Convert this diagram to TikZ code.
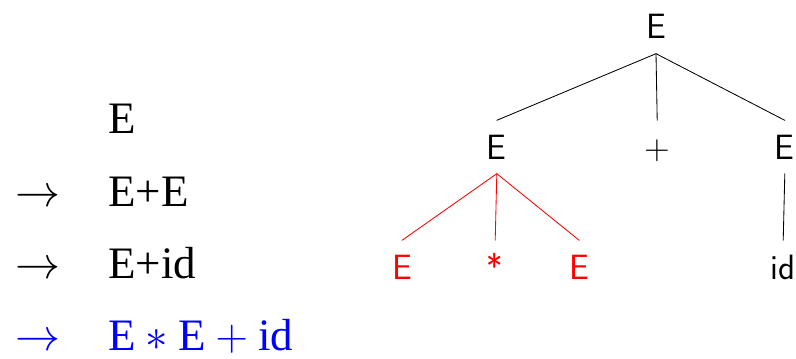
\documentclass[tikz,border=0pt]{standalone}
\usepackage{fix-cm}
\usepackage{fontspec}
\setmainfont{Liberation Serif}
\begin{document}
\begin{tikzpicture}[line cap=round, line join=round,
    deriv/.style={anchor=base west, inner sep=0pt, font=\fontsize{32}{38}\selectfont},
    sym/.style={inner xsep=1pt, inner ysep=0.36cm, text height=0.6cm, text depth=0pt,
      font=\fontsize{25}{30}\selectfont\sffamily},
    branch/.style={line width=0.6pt}]
  \useasboundingbox (0,0) rectangle (19.9,-8.95);
  % 推导过程
  \node[deriv] (d0) at (2.7,-3.325) {E};
  \node[deriv] (a1) at (0.375,-5.15) {$\rightarrow$};
  \node[deriv] (d1) at (2.7,-5.15) {E+E};
  \node[deriv] (a2) at (0.375,-6.95) {$\rightarrow$};
  \node[deriv] (d2) at (2.7,-6.95) {E+id};
  \node[deriv, blue] (a3) at (0.375,-8.75) {$\rightarrow$};
  \node[deriv, blue] (d3) at (2.7,-8.75) {$\mathrm{E}\ast\mathrm{E}+\mathrm{id}$};
  % 语法树
  \node[sym] (root) at (16.4,-0.675) {E};
  \node[sym] (eL) at (12.42,-3.675) {E};
  \node[sym] (plus) at (16.43,-3.675) {+};
  \node[sym] (eR) at (19.62,-3.675) {E};
  \node[sym, red] (eLL) at (10.05,-6.675) {E};
  \node[sym, red] (star) at (12.38,-6.675) {*};
  \node[sym, red] (eLR) at (14.48,-6.675) {E};
  \node[sym] (id) at (19.58,-6.675) {id};
  \draw[branch] (root.south) -- (eL.north);
  \draw[branch] (root.south) -- (plus.north);
  \draw[branch] (root.south) -- (eR.north);
  \draw[branch, red] (eL.south) -- (eLL.north);
  \draw[branch, red] (eL.south) -- (star.north);
  \draw[branch, red] (eL.south) -- (eLR.north);
  \draw[branch] (eR.south) -- (id.north);
\end{tikzpicture}
\end{document}
